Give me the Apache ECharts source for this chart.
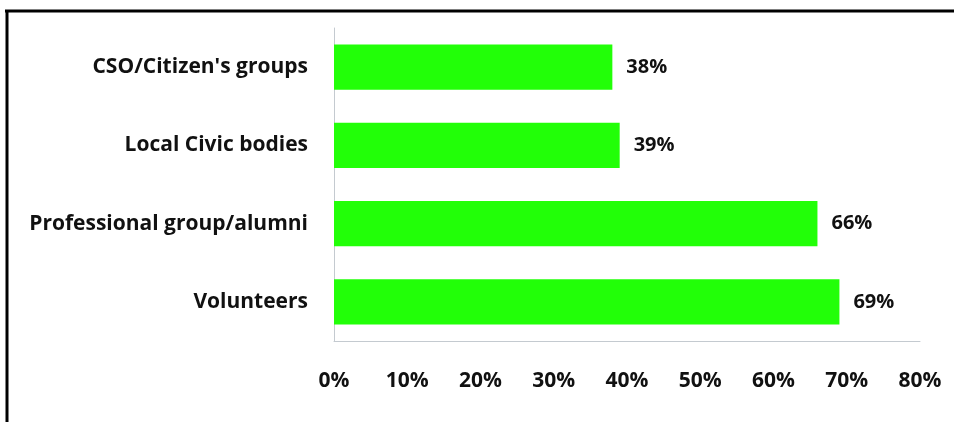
<!DOCTYPE html>
<html><head><meta charset="utf-8">
<script src="https://cdn.jsdelivr.net/npm/echarts@6/dist/echarts.min.js"></script>
<style>html,body{margin:0;padding:0;background:#fff}#c{width:954px;height:422px}</style>
</head><body><div id="c"></div>
<script>
var categories = ["CSO/Citizen's groups", "Local Civic bodies", "Professional group/alumni", "Volunteers"];
var values = [38, 39, 66, 69];
var tickMin = 0, tickMax = 80, tickStep = 10;

var chart = echarts.init(document.getElementById('c'));
var font = 'Open Sans';
chart.setOption({
  animation: false,
  backgroundColor: '#fff',
  grid: {left: 334, right: 34, top: 28, bottom: 81, containLabel: false},
  graphic: [
    {type: 'line', shape: {x1: 5, y1: 11, x2: 954, y2: 11}, style: {stroke: '#000', lineWidth: 3}},
    {type: 'line', shape: {x1: 7, y1: 10, x2: 7, y2: 422}, style: {stroke: '#000', lineWidth: 3}}
  ],
  xAxis: {
    type: 'value', min: tickMin, max: tickMax, interval: tickStep,
    axisLine: {show: true, lineStyle: {color: '#c4cad0', width: 1}},
    axisTick: {show: false},
    splitLine: {show: false},
    axisLabel: {formatter: '{value}%', color: '#111', fontFamily: font, fontWeight: 'bold', fontSize: 21, margin: 30}
  },
  yAxis: {
    type: 'category', data: categories, inverse: true,
    axisLine: {show: true, lineStyle: {color: '#c4cad0', width: 1}},
    axisTick: {show: false},
    axisLabel: {color: '#111', fontFamily: font, fontWeight: 'bold', fontSize: 21, margin: 26}
  },
  series: [{
    type: 'bar', data: values, barCategoryGap: '42%',
    itemStyle: {color: '#22ff08'},
    label: {show: true, position: 'right', distance: 14, formatter: '{c}%', color: '#111', fontFamily: font, fontWeight: 'bold', fontSize: 20}
  }]
});
</script></body></html>
